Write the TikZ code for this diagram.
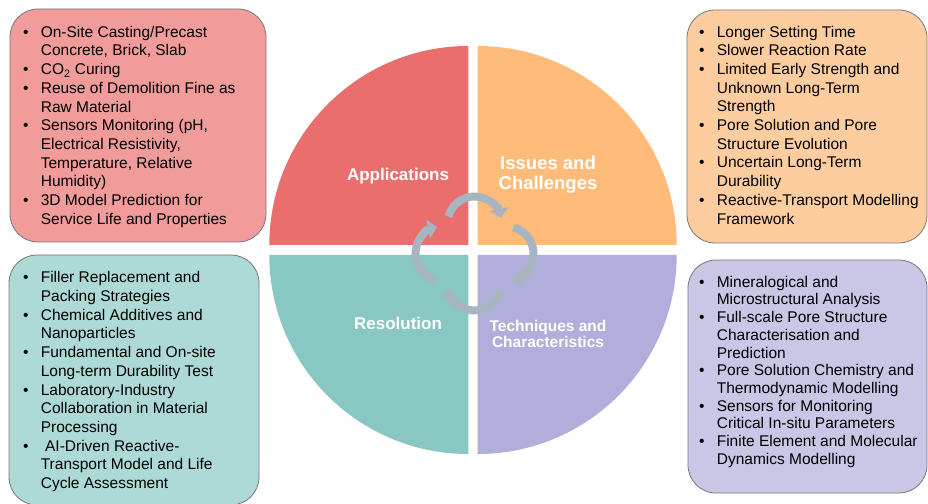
\documentclass[tikz,border=0pt]{standalone}
\usepackage{fontspec}
\setmainfont{Liberation Sans}
\usetikzlibrary{positioning, arrows.meta}

\definecolor{appquad}{RGB}{235,110,110}
\definecolor{issuequad}{RGB}{254,187,122}
\definecolor{resquad}{RGB}{137,199,194}
\definecolor{techquad}{RGB}{178,174,219}
\definecolor{appfill}{RGB}{241,155,155}
\definecolor{issuefill}{RGB}{254,205,159}
\definecolor{resfill}{RGB}{173,218,214}
\definecolor{techfill}{RGB}{201,198,230}
\definecolor{boxline}{RGB}{120,120,120}
\definecolor{arrowgrey}{RGB}{167,181,192}

\begin{document}
\begin{tikzpicture}[
    x=1pt, y=1pt,
    infobox/.style={rectangle, draw=boxline, line width=0.8pt, rounded corners=28pt, fill=#1},
    bullets/.style={inner sep=0pt, anchor=base west, font=\fontsize{15.5}{18.7}\selectfont},
    quadlabel/.style={inner sep=0pt, anchor=base, text=white, font=\fontsize{17}{19}\selectfont\bfseries},
    cyclearrow/.style={line width=8pt, draw=arrowgrey, -{Triangle[length=9pt, width=19pt]}},
]
\useasboundingbox (0,0) rectangle (928,503);

% Quarter discs
\fill[appquad] (468.3,258) -- (269.3,258) arc[start angle=180, end angle=90, radius=199] -- cycle;
\fill[issuequad] (477.7,258) -- (676.7,258) arc[start angle=0, end angle=90, radius=199] -- cycle;
\fill[resquad] (468.3,248) -- (269.3,248) arc[start angle=180, end angle=270, radius=199] -- cycle;
\fill[techquad] (477.7,248) -- (676.7,248) arc[start angle=0, end angle=-90, radius=199] -- cycle;

% Quadrant titles
\node[quadlabel] (applabel) at (398,322.3) {Applications};
\node[quadlabel, font=\fontsize{18.5}{19}\selectfont\bfseries] (issuelabel) at (548,333)
    {\begin{tabular}[t]{@{}c@{}}Issues and\\Challenges\end{tabular}};
\node[quadlabel] (reslabel) at (398,173) {Resolution};
\node[quadlabel, font=\fontsize{15.5}{16.3}\selectfont\bfseries] (techlabel) at (548,171.3)
    {\begin{tabular}[t]{@{}c@{}}Techniques and\\Characteristics\end{tabular}};

% Cycle in the middle
\coordinate (hub) at (474.5,249.5);
\draw[cyclearrow] ([shift={(90:30)}]hub) ++(165:27) arc[start angle=165, end angle=12, radius=27];
\draw[cyclearrow] ([shift={(0:32)}]hub) ++(75:27) arc[start angle=75, end angle=-78, radius=27];
\draw[cyclearrow] ([shift={(-90:30)}]hub) ++(-15:27) arc[start angle=-15, end angle=-168, radius=27];
\draw[cyclearrow] ([shift={(180:32)}]hub) ++(255:27) arc[start angle=255, end angle=102, radius=27];

% Side boxes
\node[infobox=appfill, minimum width=256, minimum height=233] (appbox) at (138,377.5) {};
\node[infobox=issuefill, minimum width=240, minimum height=233] (issuebox) at (807,376.5) {};
\node[infobox=resfill, minimum width=250, minimum height=250] (resbox) at (134,123) {};
\node[infobox=techfill, minimum width=239, minimum height=233] (techbox) at (807.5,126.5) {};

% Bullet lists
\node[bullets] (applist) at ([xshift=13.3pt, yshift=-28.7pt]appbox.north west)
    {\begin{tabular}[t]{@{}l@{\hspace{12.3pt}}l@{}}
    \textbullet & On-Site Casting/Precast\\
                & Concrete, Brick, Slab\\
    \textbullet & CO\textsubscript{2} Curing\\
    \textbullet & Reuse of Demolition Fine as\\
                & Raw Material\\
    \textbullet & Sensors Monitoring (pH,\\
                & Electrical Resistivity,\\
                & Temperature, Relative\\
                & Humidity)\\
    \textbullet & 3D Model Prediction for\\
                & Service Life and Properties
    \end{tabular}};

\node[bullets] (issuelist) at ([xshift=12.3pt, yshift=-27.5pt]issuebox.north west)
    {\begin{tabular}[t]{@{}l@{\hspace{12.3pt}}l@{}}
    \textbullet & Longer Setting Time\\
    \textbullet & Slower Reaction Rate\\
    \textbullet & Limited Early Strength and\\
                & Unknown Long-Term\\
                & Strength\\
    \textbullet & Pore Solution and Pore\\
                & Structure Evolution\\
    \textbullet & Uncertain Long-Term\\
                & Durability\\
    \textbullet & Reactive-Transport Modelling\\
                & Framework
    \end{tabular}};

\node[bullets] (reslist) at ([xshift=14.3pt, yshift=-28.3pt]resbox.north west)
    {\begin{tabular}[t]{@{}l@{\hspace{12.3pt}}l@{}}
    \textbullet & Filler Replacement and\\
                & Packing Strategies\\
    \textbullet & Chemical Additives and\\
                & Nanoparticles\\
    \textbullet & Fundamental and On-site\\
                & Long-term Durability Test\\
    \textbullet & Laboratory-Industry\\
                & Collaboration in Material\\
                & Processing\\
    \textbullet & ~AI-Driven Reactive-\\
                & Transport Model and Life\\
                & Cycle Assessment
    \end{tabular}};

\node[bullets, font=\fontsize{15.5}{17.7}\selectfont] (techlist) at ([xshift=11.3pt, yshift=-27.7pt]techbox.north west)
    {\begin{tabular}[t]{@{}l@{\hspace{12.3pt}}l@{}}
    \textbullet & Mineralogical and\\
                & Microstructural Analysis\\
    \textbullet & Full-scale Pore Structure\\
                & Characterisation and\\
                & Prediction\\
    \textbullet & Pore Solution Chemistry and\\
                & Thermodynamic Modelling\\
    \textbullet & Sensors for Monitoring\\
                & Critical In-situ Parameters\\
    \textbullet & Finite Element and Molecular\\
                & Dynamics Modelling
    \end{tabular}};

\end{tikzpicture}
\end{document}
